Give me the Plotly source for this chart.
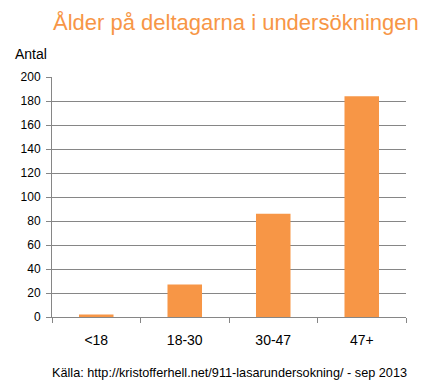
import plotly.graph_objects as go

categories = ["<18", "18-30", "30-47", "47+"]
values = [2, 27, 86, 184]
y_ticks = list(range(0, 201, 20))

title_text = "Ålder på deltagarna i undersökningen"
y_label = "Antal"
source_text = "Källa: http://kristofferhell.net/911-lasarundersokning/ - sep 2013"

orange = "#F79646"
grid = "#868686"
font_family = "Liberation Sans, Arial, sans-serif"

fig = go.Figure(go.Bar(x=categories, y=values, marker=dict(color=orange, line=dict(width=0)), width=0.39))

fig.update_layout(
    width=440, height=392,
    margin=dict(l=52, r=34, t=77, b=75),
    paper_bgcolor="white", plot_bgcolor="white",
    font=dict(family=font_family, color="black"),
    showlegend=False,
    bargap=0.6,
)
fig.update_xaxes(
    type="category", tickson="boundaries", ticks="outside", ticklen=5, tickcolor=grid,
    showline=True, linecolor=grid, linewidth=1, showgrid=False,
    tickfont=dict(size=14, family=font_family, color="black"),
    ticklabelstandoff=10,
)
fig.update_yaxes(
    range=[0, 200], tickvals=y_ticks, ticks="outside", ticklen=5, tickcolor=grid,
    showline=True, linecolor=grid, linewidth=1,
    showgrid=True, gridcolor=grid, gridwidth=1, zeroline=False,
    tickfont=dict(size=12, family=font_family, color="black"),
    ticklabelstandoff=3,
)
fig.add_annotation(text=title_text, xref="paper", yref="paper", x=0.52, y=1, yshift=55,
                   xanchor="center", yanchor="middle", showarrow=False,
                   font=dict(size=22, color=orange, family=font_family))
fig.add_annotation(text=y_label, xref="paper", yref="paper", x=0, xshift=-39, y=1, yshift=23,
                   xanchor="left", yanchor="middle", showarrow=False,
                   font=dict(size=14, color="black", family=font_family))
fig.add_annotation(text=source_text, xref="paper", yref="paper", x=0, xshift=-2, y=0, yshift=-56,
                   xanchor="left", yanchor="middle", showarrow=False,
                   font=dict(size=12.7, color="black", family=font_family))

fig.write_html("out.html", config={"displayModeBar": False},
               post_script="document.body.style.margin='0';")
